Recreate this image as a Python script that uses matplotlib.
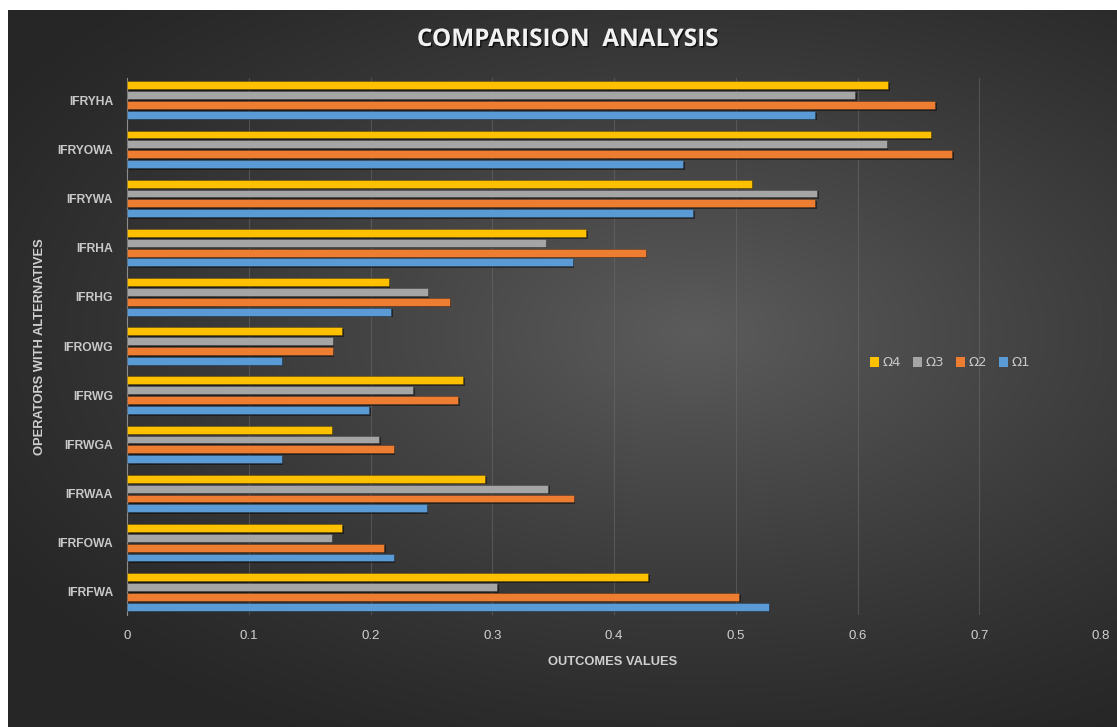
import numpy as np
import matplotlib
matplotlib.use('Agg')
from matplotlib import pyplot as plt
from matplotlib import patheffects as pe
from matplotlib.patches import Patch

# Data (bottom to top)
operators = ['IFRFWA', 'IFRFOWA', 'IFRWAA', 'IFRWGA', 'IFRWG', 'IFROWG',
             'IFRHG', 'IFRHA', 'IFRYWA', 'IFRYOWA', 'IFRYHA']
omega1 = [0.527, 0.219, 0.246, 0.127, 0.199, 0.127, 0.217, 0.366, 0.465, 0.457, 0.565]
omega2 = [0.503, 0.211, 0.367, 0.219, 0.272, 0.169, 0.265, 0.426, 0.565, 0.678, 0.664]
omega3 = [0.304, 0.168, 0.346, 0.207, 0.235, 0.169, 0.247, 0.344, 0.567, 0.624, 0.598]
omega4 = [0.428, 0.177, 0.294, 0.168, 0.276, 0.177, 0.215, 0.377, 0.513, 0.660, 0.625]

series = [('Ω1', omega1, '#5B9BD5'),
          ('Ω2', omega2, '#ED7D31'),
          ('Ω3', omega3, '#A5A5A5'),
          ('Ω4', omega4, '#FFC000')]

W, H = 1117, 727
fig = plt.figure(figsize=(W / 100, H / 100), dpi=100, facecolor='white')

# dark panel with a soft radial glow
bg = fig.add_axes([8 / W, 0, 1 - 8 / W, 1 - 10 / H])
bg.set_axis_off()
yy, xx = np.mgrid[0:1:300j, 0:1:460j]
r = np.sqrt(((xx - 0.62) / 0.75) ** 2 + ((yy - 0.45) / 0.65) ** 2)
shade = np.clip(1 - r, 0, 1) ** 1.2
base = 0.15 + 0.21 * shade
img = np.dstack([base, base, base * 1.01])
bg.imshow(np.clip(img, 0, 1), aspect='auto', extent=[0, 1, 0, 1])

ax = fig.add_axes([127 / W, 1 - 615 / H, (1101 - 127) / W, (615 - 78) / H])
ax.set_facecolor('none')

y = np.arange(len(operators))
h = 0.2
shadow = [pe.SimplePatchShadow(offset=(1.2, -1.2), shadow_rgbFace='black', alpha=0.45), pe.Normal()]
for i, (name, vals, col) in enumerate(series):
    bars = ax.barh(y + (i - 1.5) * h, vals, height=h * 0.8, color=col,
                   edgecolor=(0, 0, 0, 0.25), linewidth=0.6, label=name, zorder=3)
    for b in bars:
        b.set_path_effects(shadow)

ax.set_xlim(0, 0.8)
ax.set_ylim(-0.47, len(operators) - 0.55)
ax.set_xticks(np.arange(0, 0.81, 0.1))
ax.set_xticklabels(['0', '0.1', '0.2', '0.3', '0.4', '0.5', '0.6', '0.7', '0.8'])
ax.set_yticks(y)
ax.set_yticklabels(operators)
ax.grid(axis='x', color='#6E6E6E', linewidth=0.8, alpha=0.5, zorder=0)
ax.grid(axis='y', visible=False)
for s in ['top', 'right', 'bottom']:
    ax.spines[s].set_visible(False)
ax.spines['left'].set_color('#8C8C8C')
ax.spines['left'].set_linewidth(0.8)
ax.tick_params(length=0, colors='#D0D0D0')
ax.tick_params(axis='x', pad=11)
ax.tick_params(axis='y', pad=10)

lib = ['Liberation Sans', 'DejaVu Sans']
for t in ax.get_xticklabels():
    t.set_family(lib)
    t.set_fontsize(9.5)
for t in ax.get_yticklabels():
    t.set_family(lib)
    t.set_fontsize(8.7)
    t.set_fontweight('bold')
    t.set_color('#C8C8C8')

fig.text(567 / W, 1 - 40 / H, 'COMPARISION  ANALYSIS', ha='center', va='center',
         family=['Open Sans', 'DejaVu Sans'], fontweight='bold', fontsize=17.5,
         color='#F2F2F2',
         path_effects=[pe.withSimplePatchShadow(offset=(1, -1), shadow_rgbFace='black', alpha=0.7)])
fig.text(613 / W, 1 - 662 / H, 'OUTCOMES VALUES', ha='center', va='center',
         family=lib, fontweight='bold', fontsize=9.3, color='#D0D0D0')
fig.text(40 / W, 1 - 347 / H, 'OPERATORS WITH ALTERNATIVES', ha='center', va='center',
         rotation=90, family=lib, fontweight='bold', fontsize=9.3, color='#D0D0D0')

handles = [Patch(facecolor=c, edgecolor='none', label=n) for n, v, c in series[::-1]]
fig.legend(handles=handles, loc='center', bbox_to_anchor=(950 / W, 1 - 363 / H),
           ncol=4, frameon=False, handlelength=0.7, handleheight=0.7,
           handletextpad=0.25, columnspacing=0.9,
           prop={'family': ['DejaVu Sans'], 'size': 9.5}, labelcolor='#C8C8C8')

fig.savefig('out.png', dpi=100, facecolor='white')
plt.close(fig)
